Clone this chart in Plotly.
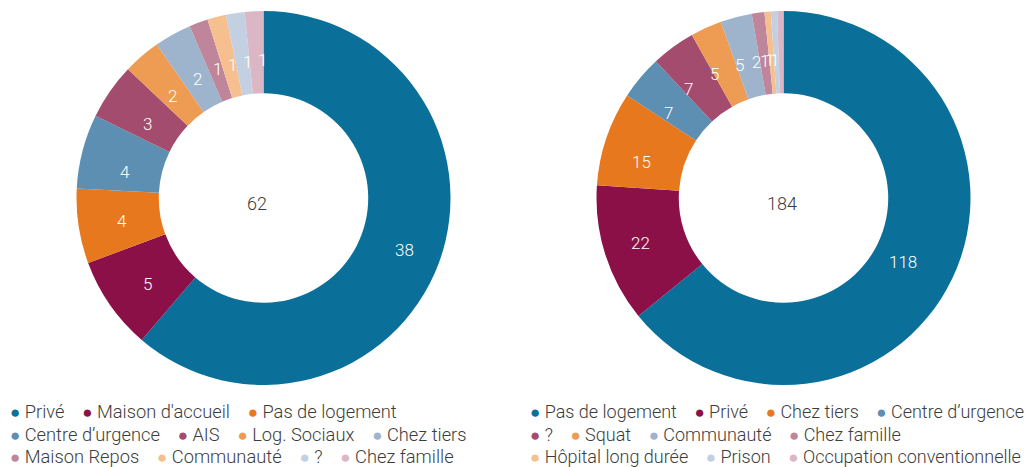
import math
import plotly.graph_objects as go

# ---- data ----
left_labels = ["Privé", "Maison d'accueil", "Pas de logement", "Centre d’urgence", "AIS",
               "Log. Sociaux", "Chez tiers", "Maison Repos", "Communauté", "?", "Chez famille"]
left_values = [38, 5, 4, 4, 3, 2, 2, 1, 1, 1, 1]

right_labels = ["Pas de logement", "Privé", "Chez tiers", "Centre d’urgence", "?", "Squat",
                "Communauté", "Chez famille", "Hôpital long durée", "Prison",
                "Occupation conventionnelle"]
right_values = [118, 22, 15, 7, 7, 5, 5, 2, 1, 1, 1]

palette = ["#0A6F99", "#8B1047", "#E8781E", "#5C8FB2", "#A34C6E", "#EE9B53",
           "#9DB4CC", "#BF859B", "#F5BF8F", "#C3D0E1", "#DBB6C4"]

left_rows = [3, 4, 4]    # legend items per row
right_rows = [4, 4, 3]

FONT = "Roboto, 'Noto Sans', sans-serif"
TEXT_COL = "#3c3c3c"

W, H = 1025, 459
OFF = 8  # page body margin


def px(sx):
    return (sx - OFF) / W


def py(sy):
    return 1 - (sy - OFF) / H


fig = go.Figure()

TOP, BOT = 11, 385
OUTER_R = (BOT - TOP) / 2
HOLE = 0.56
LABEL_R = OUTER_R * (1 + HOLE) / 2 + 4
YDOM = [py(BOT), py(TOP)]
PIES = [
    (left_labels, left_values, 263.5),
    (right_labels, right_values, 783.5),
]

for labels, values, cx in PIES:
    xdom = [px(cx - OUTER_R), px(cx + OUTER_R)]
    cy = (TOP + BOT) / 2
    fig.add_trace(go.Pie(
        labels=labels, values=values, sort=False, direction="clockwise", rotation=0,
        hole=HOLE, domain=dict(x=xdom, y=YDOM),
        marker=dict(colors=palette, line=dict(width=0)),
        textinfo="none",
        showlegend=False, hoverinfo="label+value",
    ))
    # slice value labels at mid-ring on each slice's bisector
    total = sum(values)
    cum = 0
    for v in values:
        mid = (cum + v / 2) / total * 2 * math.pi
        cum += v
        fig.add_annotation(
            x=px(cx + LABEL_R * math.sin(mid)), y=py(cy - LABEL_R * math.cos(mid)),
            xref="paper", yref="paper", text=str(v), showarrow=False,
            font=dict(size=17, color="white", family=FONT, weight=300))
    # centre total
    fig.add_annotation(x=px(cx), y=py(cy), xref="paper", yref="paper",
                       text=str(total), showarrow=False,
                       xanchor="left", xshift=-18.5, yshift=-5.5,
                       font=dict(size=18, color=TEXT_COL, family=FONT, weight=300))


# legends drawn as rows of text
def add_legend(labels, rows, sx0, fsize):
    idx = 0
    row_y = [411, 434, 456]
    for r, n in enumerate(rows):
        parts = []
        for k in range(idx, idx + n):
            parts.append(
                f"<span style='color:{palette[k]};font-size:17px;font-family:DejaVu Sans'>●</span> {labels[k]}")
        idx += n
        text = ("\u00a0" * 4).join(parts)
        fig.add_annotation(x=px(sx0), y=py(row_y[r]), xref="paper", yref="paper",
                           xanchor="left", yanchor="middle", text=text, showarrow=False,
                           font=dict(size=fsize, color=TEXT_COL, family=FONT, weight=300))


add_legend(left_labels, left_rows, 8, 18.3)
add_legend(right_labels, right_rows, 528, 18)

fig.update_layout(
    width=W, height=H, margin=dict(l=0, r=0, t=0, b=0),
    paper_bgcolor="white", plot_bgcolor="white",
    font=dict(family=FONT),
)

fig.write_html("out.html")
